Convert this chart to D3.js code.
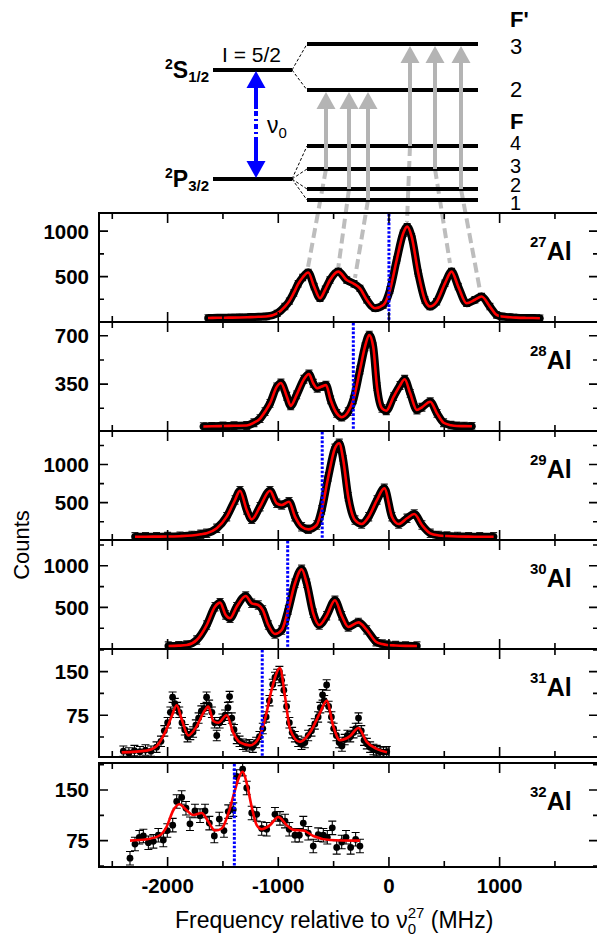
<!DOCTYPE html>
<html>
<head>
<meta charset="utf-8">
<title>Al isotopes - hyperfine spectra</title>
<script src="https://cdn.jsdelivr.net/npm/d3@7/dist/d3.min.js"></script>
<style>
  body{margin:0;background:#fff;}
  svg{display:block;font-family:"Liberation Sans",Arial,sans-serif;}
</style>
</head>
<body>
<script>
// ---------- data ----------
var isotopes  = ["27","28","29","30","31","32"];
var centroids = [0,-322,-603,-915,-1145,-1397];      // MHz, blue dotted lines
var errors    = [35,28,55,50,9,10];                   // typical error bar (counts)

var freq27   = [-1635,-1550,-1450,-1350,-1250,-1180,-1110,-1010,-940,-900,-860,-820,-780,-729,-676,-623,-575,-533,-458,-382,-316,-262,-201,-126,-51,9,70,129,165,205,265,325,370,431,506,566,626,702,777,837,912,973,1020,1093,1150,1230,1300,1364];
var counts27 = [44,46,48,50,54,57,60,95,170,230,320,420,490,545,390,262,360,462,555,462,420,370,245,152,187,352,683,977,1050,940,536,242,170,224,426,555,390,206,245,280,170,78,60,52,48,45,44,42];

var freq28   = [-1677,-1600,-1500,-1400,-1285,-1220,-1165,-1120,-1075,-1014,-976,-924,-888,-834,-768,-723,-684,-648,-608,-569,-527,-472,-427,-368,-322,-262,-217,-178,-142,-108,-63,-24,42,100,142,192,253,298,373,434,494,560,614,680,750];
var counts28 = [42,44,46,48,50,70,100,150,210,330,358,262,192,272,385,423,356,320,332,343,235,138,110,150,235,452,620,705,620,331,174,157,259,340,385,283,162,182,222,138,70,52,46,45,44];

var freq29   = [-2295,-2200,-2100,-2000,-1888,-1780,-1700,-1647,-1556,-1466,-1391,-1346,-1285,-1240,-1165,-1075,-1014,-969,-903,-849,-789,-729,-653,-608,-548,-488,-449,-413,-368,-307,-247,-183,-108,-42,27,88,163,229,298,373,450,524,620,720,820,946];
var counts29 = [52,53,54,55,60,70,85,98,163,316,535,657,404,281,447,657,491,469,512,316,184,150,207,404,840,1213,1279,1060,578,272,220,316,535,688,316,220,295,351,207,98,70,62,56,54,53,52];

var freq30   = [-1994,-1900,-1827,-1737,-1647,-1572,-1526,-1475,-1436,-1376,-1294,-1240,-1181,-1141,-1090,-1030,-969,-910,-849,-789,-743,-684,-630,-563,-488,-427,-368,-276,-201,-117,-60,-18,60,150,253];
var counts30 = [36,40,48,108,288,508,557,409,369,508,637,549,529,469,288,180,228,469,790,958,790,429,288,400,585,400,265,320,230,88,60,48,42,38,36];

var freq31   = [-2400,-2350,-2300,-2250,-2200,-2150,-2100,-2060,-2030,-2000,-1975,-1955,-1935,-1915,-1895,-1870,-1845,-1820,-1795,-1770,-1745,-1720,-1695,-1670,-1648,-1625,-1600,-1575,-1556,-1530,-1505,-1480,-1455,-1440,-1420,-1400,-1375,-1350,-1320,-1290,-1260,-1230,-1200,-1170,-1140,-1110,-1080,-1050,-1030,-1010,-990,-970,-950,-925,-900,-875,-850,-820,-790,-760,-730,-700,-670,-640,-620,-600,-585,-563,-545,-520,-500,-475,-450,-425,-400,-375,-350,-320,-300,-275,-250,-225,-200,-170,-140,-110,-80,-50,-20];
var counts31 = [13,10,14,12,15,13,20,30,48,62,80,106,95,88,80,62,50,38,42,46,58,70,82,86,106,92,80,62,40,62,68,75,88,107,70,50,35,30,25,22,24,20,28,38,52,72,100,128,140,145,150,135,118,90,62,45,38,30,25,28,40,48,60,72,88,110,100,127,90,72,52,40,28,22,33,40,38,45,52,70,48,32,26,20,16,14,12,11,12];
var fitFreq31   = [-2415,-2189,-2098,-2024,-1963,-1918,-1873,-1813,-1737,-1677,-1632,-1587,-1542,-1466,-1407,-1346,-1256,-1181,-1120,-1060,-985,-939,-894,-804,-714,-623,-563,-503,-443,-352,-276,-201,-111,-18];
var fitCounts31 = [11,14,22,45,73,92,68,40,56,79,90,65,62,75,45,28,23,34,68,119,156,107,51,29,45,79,100,56,32,39,53,29,17,11];

var freq32   = [-2340,-2295,-2256,-2219,-2174,-2129,-2084,-2039,-2003,-1954,-1918,-1873,-1834,-1798,-1753,-1707,-1662,-1623,-1578,-1533,-1491,-1452,-1407,-1376,-1322,-1285,-1240,-1195,-1150,-1105,-1030,-985,-939,-901,-849,-810,-774,-729,-684,-639,-593,-557,-512,-472,-427,-388,-346,-301,-262];
var counts32 = [49,70,80,82,72,74,83,76,90,98,133,139,123,100,119,112,119,101,82,107,90,118,121,170,181,153,116,114,93,92,114,108,104,92,83,83,101,86,67,84,83,80,94,65,73,80,65,77,67];
var fitFreq32   = [-2340,-2189,-2069,-2008,-1949,-1894,-1828,-1768,-1692,-1632,-1572,-1511,-1452,-1391,-1352,-1322,-1285,-1240,-1195,-1150,-1075,-1000,-924,-864,-774,-684,-533,-262];
var fitCounts32 = [75,77,83,96,120,129,120,113,116,103,90,93,115,150,170,177,160,125,98,92,98,110,98,91,90,82,76,75];

// axes
var xMajor = [-2000,-1000,0,1000];
var xMinor = [-2500,-1500,-500,500,1500];
var yDomains = [[0,1200],[10,800],[10,1440],[0,1310],[3,189],[36,190]];
var yMajor = [[500,1000],[350,700],[500,1000],[500,1000],[75,150],[75,150]];
var yMinor = [[250,750],[175,525],[250,750,1250],[250,750,1250],[37.5,112.5,187.5],[37.5,112.5,187.5]];

// level scheme (schematic energies) and the 27Al peaks the transitions point to
var fineLevels  = [{term:"S", j:"1/2", e:70}, {term:"P", j:"3/2", e:15.5}];
var upperLevels = [{F:3, e:83}, {F:2, e:60}];
var lowerLevels = [{F:4, e:32}, {F:3, e:20.5}, {F:2, e:10.5}, {F:1, e:5}];
var transFrom = [3,2,1,4,3,2];
var transTo   = [2,2,2,3,3,3];
var peakFreq27 = [-731,-461,-307,163,551,822];
var peakTop27  = [606,573,485,1101,650,352];

// ---------- layout ----------
var W = 597, H = 937;
var plotL = 99, plotR = 598;
var panelTop    = [213,322,431,540,649,763];
var panelBottom = [322,431,540,649,757,867];
var dia = {fineX1:213, fineX2:292, hfX1:307, hfX2:478, nuX:256, labelX:510,
           arrowX:[326,349,368,410,435,461]};

var svg = d3.select("body").append("svg").attr("width", W).attr("height", H);

var x = d3.scaleLinear().domain([-2620, 1889]).range([plotL, plotR]);
var yScales = yDomains.map(function(d, i){
  return d3.scaleLinear().domain(d).range([panelBottom[i], panelTop[i]]);
});
var eY = d3.scaleLinear().domain([0, 100]).range([210, 10]);

// ---------- level diagram ----------
var dg = svg.append("g");
var lowerY = function(F){ return eY(lowerLevels.filter(function(l){return l.F===F;})[0].e); };
var upperY = function(F){ return eY(upperLevels.filter(function(l){return l.F===F;})[0].e); };

// gray transitions: dashed part down to the 27Al peaks
transFrom.forEach(function(F, k){
  var ax = dia.arrowX[k];
  dg.append("path")
    .attr("d", "M"+ax+","+lowerY(F)+"L"+x(peakFreq27[k])+","+yScales[0](peakTop27[k]))
    .attr("stroke","#bdbdbd").attr("stroke-width",4).attr("stroke-dasharray","10 5").attr("fill","none");
});

// thin dashed links fine -> hyperfine
[[fineLevels[0], upperLevels],[fineLevels[1], lowerLevels]].forEach(function(p){
  p[1].forEach(function(l){
    dg.append("line").attr("x1",dia.fineX2).attr("y1",eY(p[0].e)).attr("x2",dia.hfX1).attr("y2",eY(l.e))
      .attr("stroke","#000").attr("stroke-width",1).attr("stroke-dasharray","3 2");
  });
});

// level bars
fineLevels.forEach(function(l){
  dg.append("line").attr("x1",dia.fineX1).attr("x2",dia.fineX2).attr("y1",eY(l.e)).attr("y2",eY(l.e))
    .attr("stroke","#000").attr("stroke-width",4);
});
upperLevels.concat(lowerLevels).forEach(function(l){
  dg.append("line").attr("x1",dia.hfX1).attr("x2",dia.hfX2).attr("y1",eY(l.e)).attr("y2",eY(l.e))
    .attr("stroke","#000").attr("stroke-width",4);
});

// gray arrows (solid part + head)
transFrom.forEach(function(F, k){
  var ax = dia.arrowX[k], yt = upperY(transTo[k]) + 2, yb = lowerY(F);
  dg.append("line").attr("x1",ax).attr("x2",ax).attr("y1",yt+16).attr("y2",yb)
    .attr("stroke","#b4b4b4").attr("stroke-width",4);
  dg.append("path").attr("d","M"+ax+","+yt+"l9.5,17h-19z").attr("fill","#b4b4b4");
});

// blue double arrow nu0
(function(){
  var y1 = eY(fineLevels[0].e) + 1, y2 = eY(fineLevels[1].e) - 1, bx = dia.nuX, blue = "#0000ff";
  dg.append("path").attr("d","M"+bx+","+y1+"l9.5,17h-19z").attr("fill",blue);
  dg.append("path").attr("d","M"+bx+","+y2+"l9.5,-17h-19z").attr("fill",blue);
  dg.append("line").attr("x1",bx).attr("x2",bx).attr("y1",y1+16).attr("y2",y1+38).attr("stroke",blue).attr("stroke-width",4);
  dg.append("line").attr("x1",bx).attr("x2",bx).attr("y1",y1+40).attr("y2",y2-36)
    .attr("stroke",blue).attr("stroke-width",4).attr("stroke-dasharray","5 3 2 3");
  dg.append("line").attr("x1",bx).attr("x2",bx).attr("y1",y2-36).attr("y2",y2-16).attr("stroke",blue).attr("stroke-width",4);
  var t = dg.append("text").attr("x", bx+11).attr("y", 133).attr("font-size",23);
  t.append("tspan").text("ν");
  t.append("tspan").attr("font-size",15).attr("dy",5).text("0");
})();

// term labels
fineLevels.forEach(function(l){
  var t = dg.append("text").attr("x", dia.fineX1-4).attr("y", eY(l.e)+8)
    .attr("text-anchor","end").attr("font-weight","bold");
  t.append("tspan").attr("font-size",14).attr("dy",-9).text("2");
  t.append("tspan").attr("font-size",23).attr("dy",9).text(l.term);
  t.append("tspan").attr("font-size",15).attr("dy",4).text(l.j);
});
dg.append("text").attr("x",222).attr("y",62).attr("font-size",21).text("I = 5/2");

var fLabelY = [27,54,97,129,150,173,192,210];
var fLabels = ["F'", upperLevels[0].F, upperLevels[1].F, "F"].concat(lowerLevels.map(function(l){return l.F;}));
fLabels.forEach(function(s, k){
  dg.append("text").attr("x", dia.labelX).attr("y", fLabelY[k]).attr("font-size", k > 3 ? 20 : 22)
    .attr("font-weight", (k===0||k===3) ? "bold" : "normal").text(s);
});

// ---------- spectra panels ----------
var spectra = [
  {f:freq27, c:counts27, ff:freq27, fc:counts27, dense:true},
  {f:freq28, c:counts28, ff:freq28, fc:counts28, dense:true},
  {f:freq29, c:counts29, ff:freq29, fc:counts29, dense:true},
  {f:freq30, c:counts30, ff:freq30, fc:counts30, dense:true},
  {f:freq31, c:counts31, ff:fitFreq31, fc:fitCounts31, dense:false},
  {f:freq32, c:counts32, ff:fitFreq32, fc:fitCounts32, dense:false}
];

spectra.forEach(function(s, i){
  var y = yScales[i], top = panelTop[i], bot = panelBottom[i], e = errors[i];
  var g = svg.append("g");
  svg.append("clipPath").attr("id","clip"+i).append("rect")
    .attr("x",plotL).attr("y",top).attr("width",plotR-plotL).attr("height",bot-top);
  var pts = s.f.map(function(f,k){ return {f:f, c:s.c[k]}; });
  var fit = s.ff.map(function(f,k){ return {f:f, c:s.fc[k]}; });
  var line = d3.line().x(function(d){return x(d.f);}).y(function(d){return y(d.c);}).curve(d3.curveMonotoneX);
  var cap = s.dense ? 3.5 : 4;

  var pg = g.append("g").attr("clip-path","url(#clip"+i+")");
  pg.append("g").selectAll("path").data(pts).join("path")
    .attr("d", function(d){
      var px = x(d.f), lo = y(d.c-e), hi = y(d.c+e);
      return "M"+px+","+lo+"V"+hi+"M"+(px-cap)+","+lo+"h"+(2*cap)+"M"+(px-cap)+","+hi+"h"+(2*cap);
    })
    .attr("stroke", s.dense ? "#222" : "#000").attr("stroke-width",1.1).attr("fill","none");
  if (s.dense) {
    pg.append("path").datum(pts).attr("d", line)
      .attr("stroke","#000").attr("stroke-width",8).attr("fill","none");
  }
  pg.append("g").selectAll("circle").data(pts).join("circle")
    .attr("cx",function(d){return x(d.f);}).attr("cy",function(d){return y(d.c);})
    .attr("r", s.dense ? 3.8 : 3.4).attr("fill","#000");
  pg.append("path").datum(fit).attr("d", line)
    .attr("stroke","#ff0000").attr("stroke-width",2.6).attr("fill","none");

  // centroid
  g.append("line").attr("x1",x(centroids[i])).attr("x2",x(centroids[i]))
    .attr("y1",top+1).attr("y2",bot-1)
    .attr("stroke","#0000ff").attr("stroke-width",3).attr("stroke-dasharray","2.6 1.7");

  // frame and ticks
  g.append("rect").attr("x",plotL).attr("y",top).attr("width",plotR-plotL).attr("height",bot-top)
    .attr("fill","none").attr("stroke","#000").attr("stroke-width",2);
  var tk = "";
  yMajor[i].forEach(function(v){ tk += "M"+plotL+","+y(v)+"h9M"+plotR+","+y(v)+"h-9"; });
  yMinor[i].forEach(function(v){ tk += "M"+plotL+","+y(v)+"h5M"+plotR+","+y(v)+"h-5"; });
  xMajor.forEach(function(v){ tk += "M"+x(v)+","+top+"v10M"+x(v)+","+bot+"v-10"; });
  xMinor.forEach(function(v){ tk += "M"+x(v)+","+top+"v6M"+x(v)+","+bot+"v-6"; });
  g.append("path").attr("d",tk).attr("stroke","#000").attr("stroke-width",1.6).attr("fill","none");

  g.selectAll(".yl").data(yMajor[i]).join("text")
    .attr("x",89).attr("y",function(v){return y(v);}).attr("dy","0.36em")
    .attr("text-anchor","end").attr("font-size",20.5).attr("font-weight","bold")
    .text(function(v){return String(v);});

  var lab = g.append("text").attr("x",530).attr("y",top+47).attr("font-weight","bold");
  lab.append("tspan").attr("font-size",15).attr("dy",-13).text(isotopes[i]);
  lab.append("tspan").attr("font-size",25).attr("dy",13).text("Al");
});

// x tick labels
svg.selectAll(".xl").data(xMajor).join("text")
  .attr("x",function(v){return x(v);}).attr("y",893)
  .attr("text-anchor","middle").attr("font-size",20.5).attr("font-weight","bold")
  .text(function(v){return String(v);});

// axis titles
var xt = svg.append("text").attr("x",175).attr("y",928).attr("font-size",23);
xt.append("tspan").text("Frequency relative to ν");
xt.append("tspan").attr("font-size",15).attr("dy",6).text("0");
xt.append("tspan").attr("font-size",15).attr("dx",-8.3).attr("dy",-16).text("27");
xt.append("tspan").attr("dy",10).text(" (MHz)");

svg.append("text").attr("transform","translate(29,545) rotate(-90)")
  .attr("text-anchor","middle").attr("font-size",22).text("Counts");
</script>
</body>
</html>
